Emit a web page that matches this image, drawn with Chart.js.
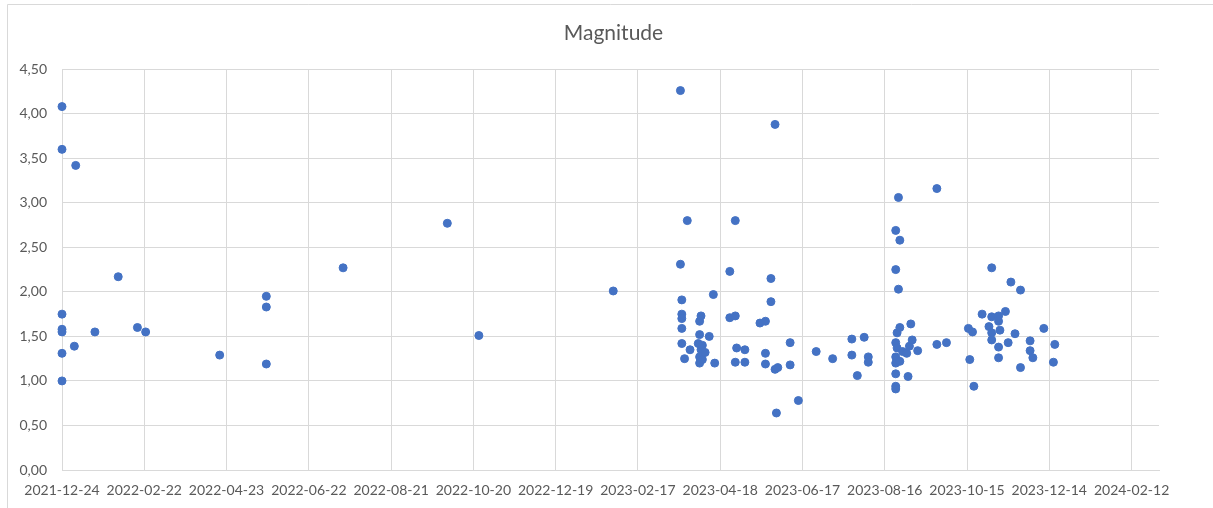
<!DOCTYPE html>
<html>
<head>
<meta charset="utf-8">
<script src="https://cdn.jsdelivr.net/npm/chart.js@4/dist/chart.umd.min.js"></script>
<style>
    body { margin: 0; background: #ffffff; }
    #wrap { width: 1213px; height: 508px; }
</style>
</head>
<body>
<div id="wrap"><canvas id="magChart" width="1213" height="508"></canvas></div>
<script>
// dates of the events and their magnitude
var eventDates = [
    '2021-12-24', '2021-12-24', '2021-12-24', '2021-12-24', '2021-12-24', '2021-12-24', '2021-12-24',
    '2022-01-02', '2022-01-03', '2022-01-17', '2022-02-03', '2022-02-17', '2022-02-23', '2022-04-18',
    '2022-05-22', '2022-05-22', '2022-05-22', '2022-07-17', '2022-10-01', '2022-10-24', '2023-01-30',
    '2023-03-20', '2023-03-20', '2023-03-21', '2023-03-21', '2023-03-21', '2023-03-21', '2023-03-21',
    '2023-03-23', '2023-03-25', '2023-03-27', '2023-04-02', '2023-04-03', '2023-04-03', '2023-04-03',
    '2023-04-03', '2023-04-04', '2023-04-04', '2023-04-05', '2023-04-05', '2023-04-07', '2023-04-10',
    '2023-04-13', '2023-04-14', '2023-04-25', '2023-04-25', '2023-04-29', '2023-04-29', '2023-04-29',
    '2023-04-30', '2023-05-06', '2023-05-06', '2023-05-17', '2023-05-21', '2023-05-21', '2023-05-21',
    '2023-05-25', '2023-05-25', '2023-05-28', '2023-05-28', '2023-05-29', '2023-05-30', '2023-06-08',
    '2023-06-08', '2023-06-14', '2023-06-27', '2023-07-09', '2023-07-23', '2023-07-23', '2023-07-27',
    '2023-08-01', '2023-08-04', '2023-08-04', '2023-08-24', '2023-08-24', '2023-08-24', '2023-08-24',
    '2023-08-24', '2023-08-24', '2023-08-24', '2023-08-24', '2023-08-25', '2023-08-25', '2023-08-26',
    '2023-08-26', '2023-08-27', '2023-08-27', '2023-08-27', '2023-08-29', '2023-09-01', '2023-09-02',
    '2023-09-03', '2023-09-04', '2023-09-05', '2023-09-09', '2023-09-23', '2023-09-23', '2023-09-30',
    '2023-10-16', '2023-10-17', '2023-10-19', '2023-10-20', '2023-10-26', '2023-10-31', '2023-11-02',
    '2023-11-02', '2023-11-02', '2023-11-02', '2023-11-07', '2023-11-07', '2023-11-07', '2023-11-07',
    '2023-11-08', '2023-11-12', '2023-11-14', '2023-11-16', '2023-11-19', '2023-11-23', '2023-11-23',
    '2023-11-30', '2023-11-30', '2023-12-02', '2023-12-10', '2023-12-17', '2023-12-18'
];
var magnitudes = [
    4.08, 3.60, 1.75, 1.58, 1.55, 1.31, 1.00,
    1.39, 3.42, 1.55, 2.17, 1.60, 1.55, 1.29,
    1.95, 1.83, 1.19, 2.27, 2.77, 1.51, 2.01,
    4.26, 2.31, 1.91, 1.75, 1.70, 1.59, 1.42,
    1.25, 2.80, 1.35, 1.42, 1.67, 1.52, 1.27,
    1.20, 1.73, 1.35, 1.40, 1.24, 1.32, 1.50,
    1.97, 1.20, 2.23, 1.71, 2.80, 1.73, 1.21,
    1.37, 1.35, 1.21, 1.65, 1.67, 1.31, 1.19,
    2.15, 1.89, 3.88, 1.13, 0.64, 1.15, 1.43,
    1.18, 0.78, 1.33, 1.25, 1.47, 1.29, 1.06,
    1.49, 1.27, 1.21, 2.69, 2.25, 1.43, 1.27,
    1.20, 1.08, 0.94, 0.91, 1.54, 1.37, 3.06,
    2.03, 2.58, 1.60, 1.22, 1.33, 1.31, 1.05,
    1.39, 1.64, 1.46, 1.34, 3.16, 1.41, 1.43,
    1.59, 1.24, 1.55, 0.94, 1.75, 1.61, 2.27,
    1.72, 1.54, 1.46, 1.73, 1.67, 1.38, 1.26,
    1.57, 1.78, 1.43, 2.11, 1.53, 2.02, 1.15,
    1.45, 1.34, 1.26, 1.59, 1.21, 1.41
];

// axis: first tick date, days between ticks, days shown
var axisStart = '2021-12-24';
var tickStepDays = 60;
var axisDays = 800;
var yMax = 4.5;
var yStep = 0.5;

var DAY = 86400000;
var startMs = Date.parse(axisStart);

function dayOf(d) {
    return Math.round((Date.parse(d) - startMs) / DAY);
}
function dateLabel(v) {
    return new Date(startMs + v * DAY).toISOString().slice(0, 10);
}

var points = eventDates.map(function (d, i) {
    return { x: dayOf(d), y: magnitudes[i] };
});

var frame = {
    id: 'frame',
    beforeDraw: function (chart) {
        var c = chart.ctx;
        c.save();
        c.fillStyle = '#ffffff';
        c.fillRect(0, 0, chart.width, chart.height);
        c.strokeStyle = '#d9d9d9';
        c.lineWidth = 1;
        c.beginPath();
        c.moveTo(7.5, chart.height);
        c.lineTo(7.5, 4.5);
        c.lineTo(chart.width, 4.5);
        c.stroke();
        c.restore();
    }
};

var gridColor = '#d9d9d9';
var textColor = '#595959';
var tickFont = { family: 'Lato', size: 14 };

new Chart(document.getElementById('magChart').getContext('2d'), {
    type: 'scatter',
    data: {
        datasets: [{
            label: 'Magnitude',
            data: points,
            backgroundColor: '#4472C4',
            borderColor: '#4472C4',
            pointRadius: 4,
            pointBorderWidth: 1,
            pointHoverRadius: 4,
            clip: false
        }]
    },
    options: {
        responsive: false,
        animation: false,
        layout: { padding: { left: 14, right: 0, top: 0, bottom: 0 } },
        plugins: {
            legend: { display: false },
            tooltip: { enabled: false },
            title: {
                display: true,
                text: 'Magnitude',
                color: textColor,
                font: { family: 'Lato', size: 21, weight: 'normal' },
                padding: { top: 21, bottom: 23 }
            }
        },
        scales: {
            x: {
                type: 'linear',
                min: 0,
                max: axisDays,
                afterBuildTicks: function (scale) {
                    var t = [];
                    for (var v = 0; v < axisDays; v += tickStepDays) t.push({ value: v });
                    scale.ticks = t;
                },
                afterFit: function (scale) { scale.height = 38; },
                grid: { color: gridColor, drawTicks: false },
                border: { color: gridColor },
                ticks: {
                    color: textColor,
                    font: tickFont,
                    padding: 12,
                    maxRotation: 0,
                    autoSkip: false,
                    callback: function (v) { return dateLabel(v); }
                }
            },
            y: {
                min: 0,
                max: yMax,
                afterFit: function (scale) { scale.width = 48; },
                grid: { color: gridColor, drawTicks: false },
                border: { color: gridColor },
                ticks: {
                    stepSize: yStep,
                    color: textColor,
                    font: tickFont,
                    padding: 15,
                    callback: function (v) { return v.toFixed(2).replace('.', ','); }
                }
            },
            // empty axis on the right only to keep the plot clear of the edge
            yRight: {
                position: 'right',
                afterFit: function (scale) { scale.width = 54; },
                grid: { display: false },
                border: { display: false },
                ticks: { display: false }
            }
        }
    },
    plugins: [frame]
});
</script>
</body>
</html>
